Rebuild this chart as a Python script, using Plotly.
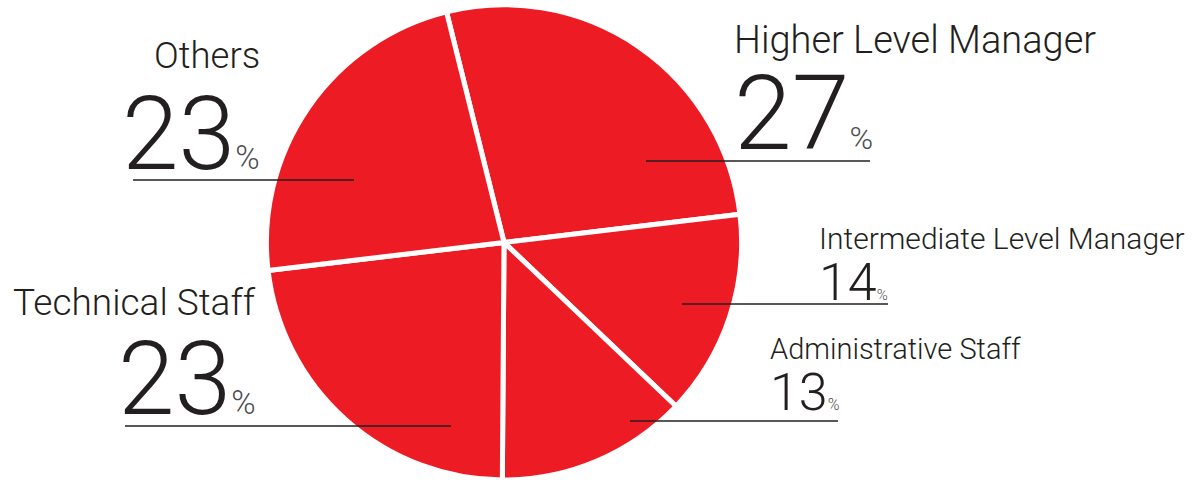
import plotly.graph_objects as go

# Staff composition by role (percent)
categories = ["Higher Level Manager", "Intermediate Level Manager",
              "Administrative Staff", "Technical Staff", "Others"]
shares = [27, 14, 13, 23, 23]

W, H = 1201, 480
RED = "#ed1c24"
INK = "#231f20"
PCT = "#4d4d4f"
FONT = "Roboto"
MID = 0.342   # text box centre above the baseline, in em (Roboto)

# Label block per category, in page pixels:
#   x, side   - anchor x and which side the block hangs from
#   name_base, num_base - baselines of the name and the number
#   name/num/pct - font sizes of the three text parts
#   rule      - leader rule under the block (x0, x1, y)
label_layout = {
    "Higher Level Manager": dict(x=732, side="left", name_base=53, num_base=149,
                                 name=38, num=104, pct=32, rule=(646, 870, 161)),
    "Intermediate Level Manager": dict(x=817, side="left", name_base=248.5, num_base=300,
                                       name=30, num=52, pct=15, rule=(682, 888, 304)),
    "Administrative Staff": dict(x=768, side="left", name_base=359, num_base=410,
                                 name=29, num=52, pct=16, rule=(630, 838, 421)),
    "Technical Staff": dict(x=258, side="right", name_base=315, num_base=414,
                            name=37, num=102, pct=33, rule=(125, 451, 426)),
    "Others": dict(x=262, side="right", name_base=68, num_base=169,
                   name=36.5, num=102, pct=33, rule=(133, 354, 180)),
}


def px_x(x):
    return x / W


def px_y(y):
    return 1 - y / H


# Pie placed so its centre sits left of the middle of the page
cx, cy_top = 504, 4.8
side = 475.2
fig = go.Figure(go.Pie(
    labels=categories,
    values=shares,
    sort=False,
    direction="clockwise",
    rotation=-14,
    marker=dict(colors=[RED] * len(shares), line=dict(color="white", width=5)),
    textinfo="none",
    hoverinfo="skip",
    showlegend=False,
    domain=dict(x=[px_x(cx - side / 2), px_x(cx + side / 2)],
                y=[px_y(cy_top + side), px_y(cy_top)]),
))

annotations = []
shapes = []
for cat, val in zip(categories, shares):
    spec = label_layout[cat]
    ns, vs = spec["name"], spec["num"]
    # category name
    annotations.append(dict(
        text=cat, x=px_x(spec["x"]), y=px_y(spec["name_base"] - MID * ns),
        xanchor=spec["side"], yanchor="middle", align=spec["side"],
        showarrow=False,
        font=dict(family=FONT, size=ns, color=INK, weight=300),
    ))
    # share value with a small % sign on the same baseline;
    # the box is trimmed to the height of the figures
    annotations.append(dict(
        text=f"{val}<span style='font-size:{spec['pct']}px;color:{PCT}'>%</span>",
        x=px_x(spec["x"]), y=px_y(spec["num_base"] - MID * vs),
        xanchor=spec["side"], yanchor="middle", align=spec["side"],
        height=round(0.8 * vs), valign="middle",
        showarrow=False,
        font=dict(family=FONT, size=vs, color=INK, weight=300),
    ))
    x0, x1, y = spec["rule"]
    shapes.append(dict(type="line", xref="paper", yref="paper",
                       x0=px_x(x0), x1=px_x(x1), y0=px_y(y), y1=px_y(y),
                       line=dict(color=INK, width=1.3), layer="above"))

fig.update_layout(
    width=W, height=H,
    margin=dict(l=0, r=0, t=0, b=0),
    paper_bgcolor="white",
    plot_bgcolor="white",
    annotations=annotations,
    shapes=shapes,
)

fig.write_html("out.html")
